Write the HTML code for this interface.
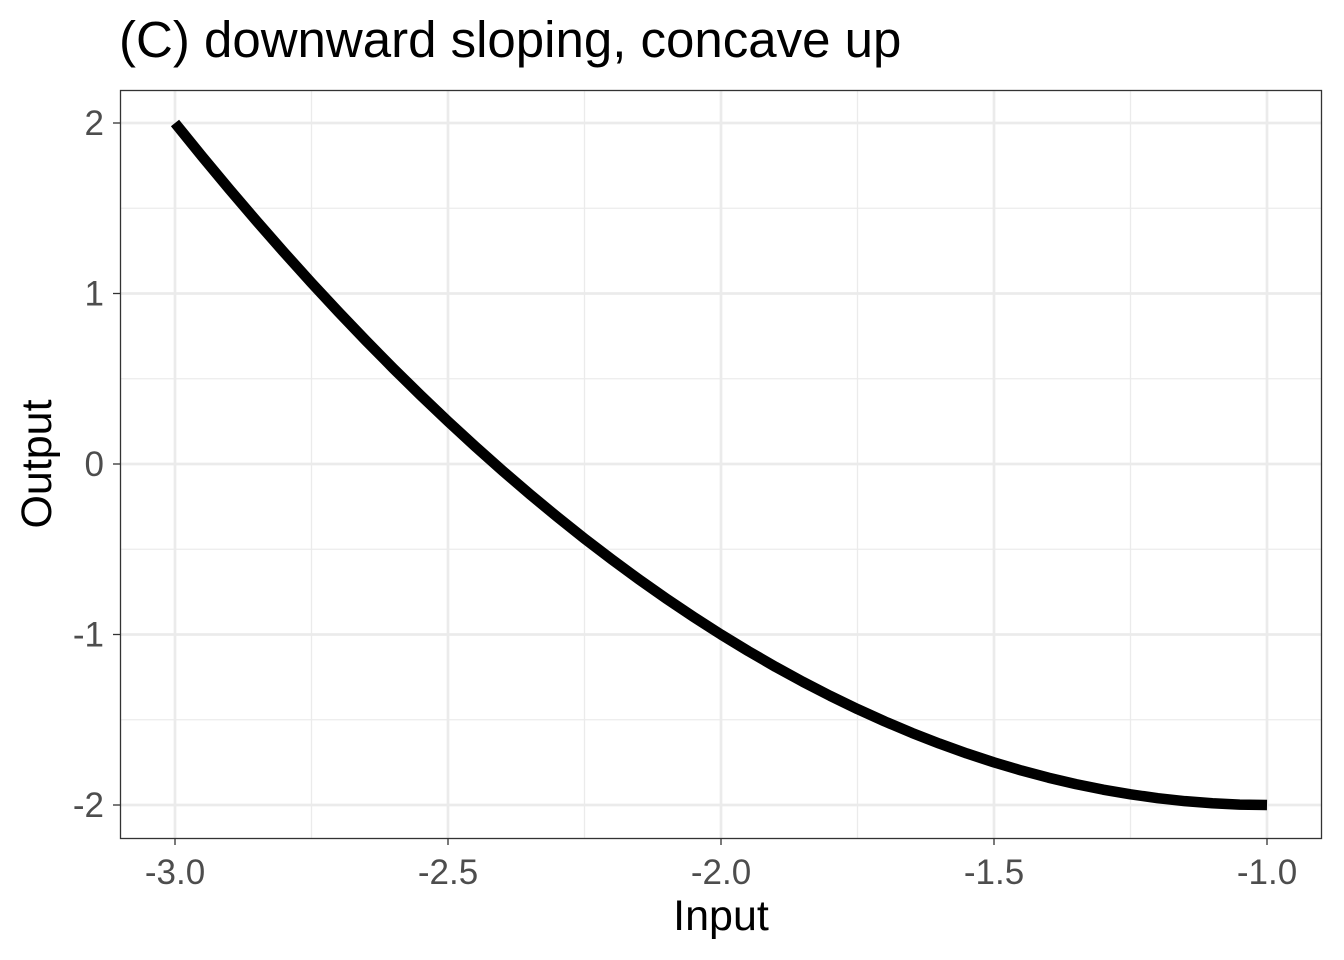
<!DOCTYPE html>
<html><head><meta charset="utf-8"><style>
body{margin:0;background:#fff;}
svg{display:block;font-family:"Liberation Sans",sans-serif;}
</style></head><body>
<svg id="chart" width="1344" height="960">
<text x="119" y="57" font-size="51" fill="#000">(C) downward sloping, concave up</text>
<g id="grid"></g>
<rect x="120.5" y="90.5" width="1201" height="748" fill="none" stroke="#333" stroke-width="1.3"/>
<g id="marks"></g>
<g id="axes"></g>
<text x="721" y="930" font-size="43" text-anchor="middle">Input</text>
<text transform="translate(51,464) rotate(-90)" font-size="43" text-anchor="middle">Output</text>
</svg>
<script>
const xValues=[-3,-2.95,-2.9,-2.85,-2.8,-2.75,-2.7,-2.65,-2.6,-2.55,-2.5,-2.45,-2.4,-2.35,-2.3,-2.25,-2.2,-2.15,-2.1,-2.05,-2,-1.95,-1.9,-1.85,-1.8,-1.75,-1.7,-1.65,-1.6,-1.55,-1.5,-1.45,-1.4,-1.35,-1.3,-1.25,-1.2,-1.15,-1.1,-1.05,-1];
const yValues=[2,1.8025,1.61,1.4225,1.24,1.0625,0.89,0.7225,0.56,0.4025,0.25,0.1025,-0.04,-0.1775,-0.31,-0.4375,-0.56,-0.6775,-0.79,-0.8975,-1,-1.0975,-1.19,-1.2775,-1.36,-1.4375,-1.51,-1.5775,-1.64,-1.6975,-1.75,-1.7975,-1.84,-1.8775,-1.91,-1.9375,-1.96,-1.9775,-1.99,-1.9975,-2];
const xTicks=[-3,-2.5,-2,-1.5,-1];
const xTickLabels=["-3.0","-2.5","-2.0","-1.5","-1.0"];
const xMinor=[-2.75,-2.25,-1.75,-1.25];
const yTicks=[-2,-1,0,1,2];
const yTickLabels=["-2","-1","0","1","2"];
const yMinor=[-1.5,-0.5,0.5,1.5];
const NS="http://www.w3.org/2000/svg";
const sx=v=>175+(v+3)*546;
const sy=v=>464-v*170.5;
const grid=document.getElementById('grid'),axes=document.getElementById('axes'),marks=document.getElementById('marks');
function line(p,x1,y1,x2,y2,c,w){const l=document.createElementNS(NS,'line');l.setAttribute('x1',x1);l.setAttribute('y1',y1);l.setAttribute('x2',x2);l.setAttribute('y2',y2);l.setAttribute('stroke',c);l.setAttribute('stroke-width',w);p.appendChild(l);return l;}
function text(p,x,y,s,a){const t=document.createElementNS(NS,'text');t.setAttribute('x',x);t.setAttribute('y',y);t.setAttribute('font-size',35);t.setAttribute('fill','#4d4d4d');t.setAttribute('text-anchor',a);t.textContent=s;p.appendChild(t);return t;}
xMinor.forEach(v=>{const l=line(grid,sx(v),90,sx(v),838,'#ebebeb',1.3);

});
yMinor.forEach(v=>{const l=line(grid,120,sy(v),1322,sy(v),'#ebebeb',1.3);

});
xTicks.forEach((v,i)=>{const l=line(grid,sx(v),90,sx(v),838,'#ebebeb',2.7);


const t=line(axes,sx(v),838,sx(v),845,'#333',1.3);


const lb=text(axes,sx(v),884,xTickLabels[i],'middle');

});
yTicks.forEach((v,i)=>{const l=line(grid,120,sy(v),1322,sy(v),'#ebebeb',2.7);


const t=line(axes,113,sy(v),120,sy(v),'#333',1.3);


const lb=text(axes,104,sy(v)+12,yTickLabels[i],'end');

});
const pl=document.createElementNS(NS,'polyline');
pl.setAttribute('points',xValues.map((x,i)=>sx(x)+','+sy(yValues[i])).join(' '));
pl.setAttribute('fill','none');pl.setAttribute('stroke','#000');pl.setAttribute('stroke-width',10.5);
pl.setAttribute('stroke-linejoin','round');


marks.appendChild(pl);
</script>
</body></html>
